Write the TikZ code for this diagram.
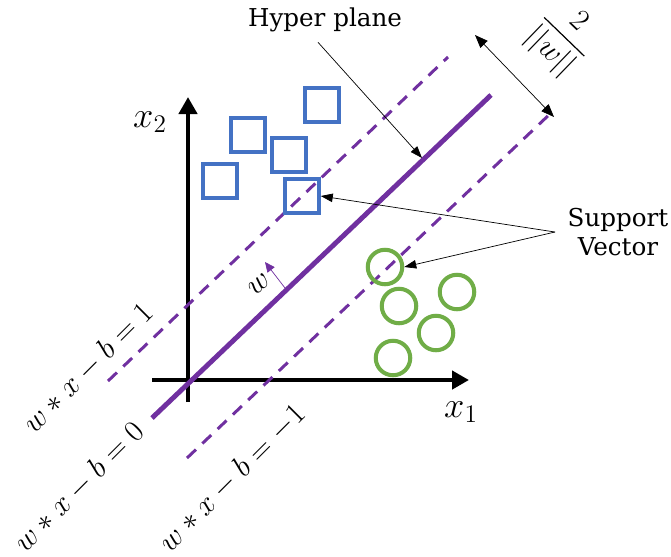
\documentclass[tikz,border=0pt]{standalone}
\usepackage{amsmath}
\usepackage{fontspec}
\usetikzlibrary{arrows.meta}
\newfontfamily\lblfont{DejaVu Serif}
\definecolor{hpurple}{RGB}{112,48,160}
\definecolor{sqblue}{RGB}{68,114,196}
\definecolor{cgreen}{RGB}{112,173,71}
\tikzset{
  axis/.style={line width=2.6pt,-{Triangle[length=3.4mm,width=3.6mm]}},
  plane/.style={hpurple,line width=2.8pt},
  margin/.style={hpurple,line width=1.7pt,dash pattern=on 7pt off 5pt},
  sq/.style={draw=sqblue,line width=2.3pt,minimum size=6.7mm,inner sep=0pt},
  pt/.style={circle,draw=cgreen,line width=2.3pt,minimum size=6.9mm,inner sep=0pt},
  note/.style={-{Triangle[length=2.4mm,width=1.7mm]},thin},
  eqn/.style={rotate=45,font=\fontsize{17}{20}\selectfont},
  txt/.style={font=\lblfont\fontsize{14}{17}\selectfont,align=center},
}

\begin{document}
\begin{tikzpicture}[x=0.02cm,y=-0.02cm]
  \useasboundingbox (0,0) rectangle (671,556);
  % axes
  \coordinate (o1) at (188,402); \coordinate (o2) at (188,97);
  \coordinate (a1) at (152,380); \coordinate (a2) at (469,380);
  \draw[axis] (o1) -- (o2);
  \draw[axis] (a1) -- (a2);
  \node[font=\fontsize{21}{24}\selectfont] (x2) at (150,122) {$x_2$};
  \node[font=\fontsize{21}{24}\selectfont] (x1) at (461,412) {$x_1$};
  % hyperplane and margins
  \coordinate (h0) at (152,418); \coordinate (h1) at (491,95);
  \coordinate (u0) at (108,381); \coordinate (u1) at (448,57);
  \coordinate (l0) at (187,458); \coordinate (l1) at (552,112);
  \draw[plane] (h0) -- (h1);
  \draw[margin] (u0) -- (u1);
  \draw[margin] (l0) -- (l1);
  \node[eqn] (e1) at (88,368) {$w*x-b=1$};
  \node[eqn] (e0) at (79,487) {$w*x-b=0$};
  \node[eqn] (em) at (232,478) {$w*x-b=-1$};
  % normal vector
  \coordinate (wb) at (285,288); \coordinate (wt) at (265,262);
  \draw[hpurple,-{Triangle[length=2mm,width=1.8mm]},thin] (wb) -- (wt);
  \node[rotate=40,font=\fontsize{17}{20}\selectfont] (wl) at (259,284) {$w$};
  % classes
  \node[sq] (s1) at (322,105) {};
  \node[sq] (s2) at (248,135) {};
  \node[sq] (s3) at (289,155) {};
  \node[sq] (s4) at (220,181) {};
  \node[sq] (s5) at (302,196) {};
  \node[pt] (c1) at (385,267) {};
  \node[pt] (c2) at (399,306) {};
  \node[pt] (c3) at (457,292) {};
  \node[pt] (c4) at (436,333) {};
  \node[pt] (c5) at (393,358) {};
  % margin width
  \coordinate (m0) at (475,35); \coordinate (m1) at (554,117);
  \draw[{Triangle[length=2.6mm,width=2mm]}-{Triangle[length=2.6mm,width=2mm]},thin] (m0) -- (m1);
  \node[rotate=-44,font=\fontsize{17}{20}\selectfont] (mg) at (563,38) {$\dfrac{2}{||w||}$};
  % notes
  \node[txt] (hp) at (325,20) {Hyper plane};
  \coordinate (hpt) at (422,158);
  \draw[note] (hp.south) ++(-7,4) -- (hpt);
  \node[txt,inner sep=1pt] (sv) at (618,232) {Support\\Vector};
  \coordinate (svo) at (555,232);
  \draw[note] (svo) -- (s5.east);
  \draw[note] (svo) -- (c1.east);
\end{tikzpicture}
\end{document}
